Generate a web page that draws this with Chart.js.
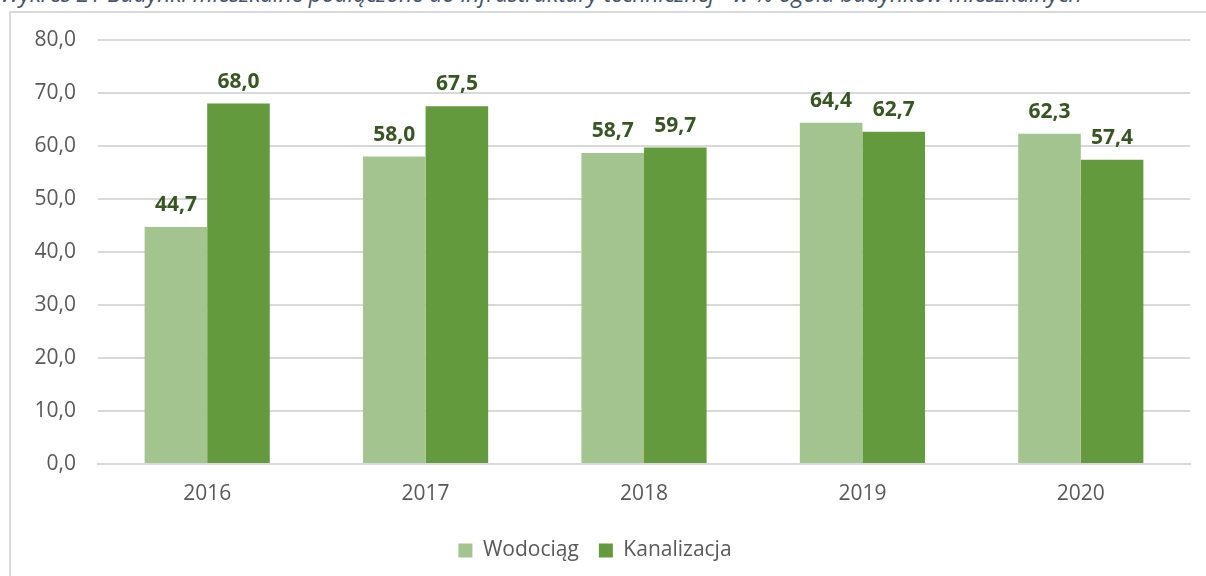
<!DOCTYPE html>
<html>
<head>
<meta charset="utf-8">
<script src="https://cdn.jsdelivr.net/npm/chart.js@4"></script>
<style>
  html, body { margin: 0; padding: 0; background: #fff; overflow: hidden; }
  #title {
    position: absolute; left: 0px; top: -18px; white-space: nowrap;
    font: italic 23px/23px "Open Sans", sans-serif; color: #44546A; letter-spacing: -0.2px;
  }
  #frame {
    position: absolute; left: 9px; top: 11px; width: 1210px; height: 580px;
    border-left: 2px solid #d9d9d9; border-top: 2px solid #d9d9d9;
  }
  #wrap { position: absolute; left: 0; top: 0; width: 1206px; height: 576px; }
</style>
</head>
<body>
<div id="title">Wykres 21 Budynki mieszkalne podłączone do infrastruktury technicznej - w % ogółu budynków mieszkalnych</div>
<div id="frame"></div>
<div id="wrap"><canvas id="chart"></canvas></div>
<script>
const YEARS = ['2016', '2017', '2018', '2019', '2020'];
const WODOCIAG = [44.7, 58.0, 58.7, 64.4, 62.3];
const KANALIZACJA = [68.0, 67.5, 59.7, 62.7, 57.4];
const Y_MIN = 0;
const Y_MAX = 80;
const Y_STEP = 10;

const FONT = '"Open Sans", sans-serif';
const fmt = v => v.toFixed(1).replace('.', ',');

// value labels above each bar
const barLabels = {
  id: 'barLabels',
  afterDatasetsDraw(chart) {
    const ctx = chart.ctx;
    ctx.save();
    ctx.font = `bold 21px ${FONT}`;
    ctx.fillStyle = '#375623';
    ctx.textAlign = 'center';
    ctx.textBaseline = 'alphabetic';
    chart.data.datasets.forEach((ds, i) => {
      chart.getDatasetMeta(i).data.forEach((bar, j) => {
        ctx.fillText(fmt(ds.data[j]), bar.x, bar.y - 16);
      });
    });
    ctx.restore();
  },
};

new Chart(document.getElementById('chart'), {
  type: 'bar',
  data: {
    labels: YEARS,
    datasets: [
      { label: 'Wodociąg', data: WODOCIAG, backgroundColor: '#A3C48F' },
      { label: 'Kanalizacja', data: KANALIZACJA, backgroundColor: '#629A3D' },
    ],
  },
  options: {
    responsive: true,
    maintainAspectRatio: false,
    animation: false,
    devicePixelRatio: 1,
    categoryPercentage: 0.573,
    barPercentage: 1,
    layout: { padding: { top: 40, right: 16, bottom: 5, left: 0 } },
    plugins: {
      tooltip: { enabled: false },
      legend: {
        position: 'bottom',
        labels: {
          color: '#595959',
          font: { family: FONT, size: 21 },
          boxWidth: 14, boxHeight: 14, padding: 20,
        },
      },
    },
    scales: {
      x: {
        grid: { display: false, drawTicks: false },
        border: { color: '#d9d9d9', width: 2 },
        ticks: { color: '#595959', font: { family: FONT, size: 21 }, padding: 17 },
        afterFit: s => { s.height = 56; },
      },
      y: {
        min: Y_MIN, max: Y_MAX,
        grid: { color: '#d9d9d9', lineWidth: 2, drawTicks: false },
        border: { display: false },
        ticks: {
          stepSize: Y_STEP, color: '#595959', padding: 22,
          font: { family: FONT, size: 21 },
          callback: v => fmt(v),
        },
        afterFit: s => { s.width = 98; },
      },
    },
  },
  plugins: [barLabels],
});
</script>
</body>
</html>
